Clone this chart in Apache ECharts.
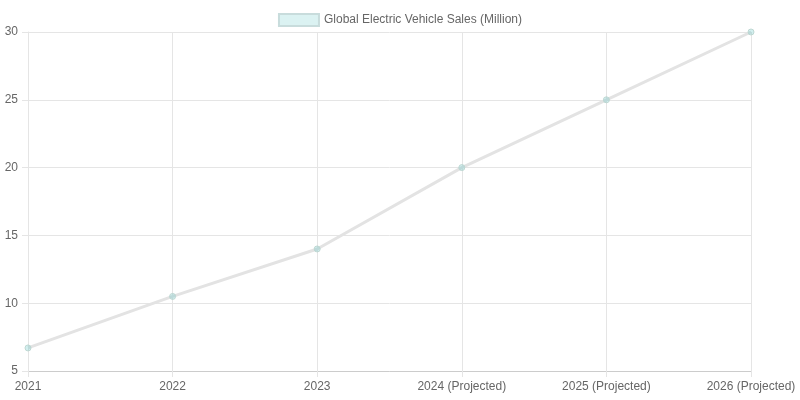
<!DOCTYPE html>
<html><head><meta charset="utf-8">
<script src="https://cdn.jsdelivr.net/npm/echarts@6/dist/echarts.min.js"></script>
<style>html,body{margin:0;padding:0;background:#fff}#c{width:800px;height:400px}</style>
</head><body><div id="c"></div>
<script>
const categories = ["2021","2022","2023","2024 (Projected)","2025 (Projected)","2026 (Projected)"];
const sales = [6.7, 10.5, 14, 20, 25, 30];
const seriesName = "Global Electric Vehicle Sales (Million)";
const chart = echarts.init(document.getElementById('c'));
const font = 'Liberation Sans, Arial, sans-serif';
chart.setOption({
  animation:false,
  legend:{top:8,left:'center',itemWidth:40,itemHeight:12,itemGap:10,
    textStyle:{color:'#666',fontSize:12,fontFamily:font},
    data:[{name:seriesName,icon:'rect',itemStyle:{color:'rgba(75,192,192,0.2)',borderColor:'rgba(200,220,220,1)',borderWidth:2}}]},
  grid:{left:28,right:49,top:32,bottom:29},
  xAxis:{type:'category',boundaryGap:false,data:categories,
    axisLine:{lineStyle:{color:'#ccc'}},
    axisTick:{show:true,length:6,lineStyle:{color:'#e5e5e5'}},
    axisLabel:{color:'#666',fontSize:12,fontFamily:font,margin:10},
    splitLine:{show:true,lineStyle:{color:'#e5e5e5'}}},
  yAxis:{type:'value',min:5,max:30,interval:5,
    axisLine:{show:true,lineStyle:{color:'#e5e5e5'}},
    axisTick:{show:true,length:6,lineStyle:{color:'#e5e5e5'}},
    axisLabel:{color:'#666',fontSize:12,fontFamily:font,margin:10},
    splitLine:{lineStyle:{color:'#e5e5e5'}}},
  series:[{name:seriesName,type:'line',data:sales,symbol:'circle',symbolSize:6,
    lineStyle:{color:'#e3e3e3',width:3},
    itemStyle:{color:'rgba(75,192,192,0.25)',borderColor:'rgba(190,215,210,1)',borderWidth:1}}]
});
</script></body></html>
